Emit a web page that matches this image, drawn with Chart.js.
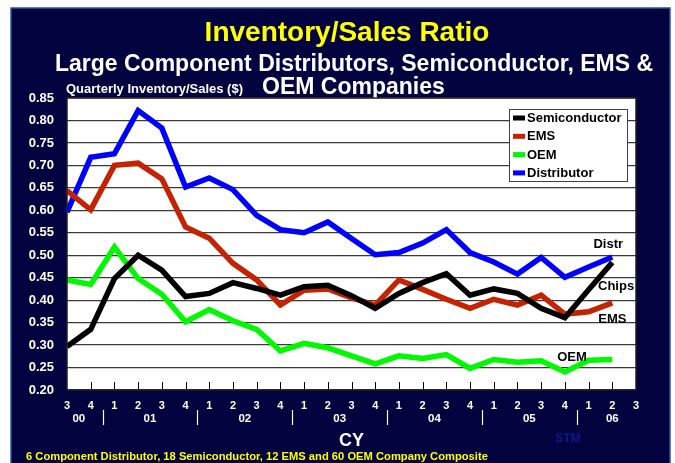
<!DOCTYPE html>
<html lang="en">
<head>
  <meta charset="UTF-8">
  <title>Inventory/Sales Ratio</title>
  <style>
    body {
      margin: 0;
      background-color: #fff;
    }
    #wrap {
      width: 675px;
      height: 463px;
    }
  </style>
  <script src="https://cdn.jsdelivr.net/npm/chart.js"></script>
</head>
<body>
  <div id="wrap"><canvas id="ratioChart" width="675" height="463"></canvas></div>

  <script>
    // quarter labels, Q3 2000 .. Q3 2006
    const quarters = ['3','4','1','2','3','4','1','2','3','4','1','2','3','4','1','2','3','4','1','2','3','4','1','2','3'];
    // year labels with the first and last quarter index they sit under
    const years = ['00','01','02','03','04','05','06'];
    const yearSpans = [[0,1],[2,5],[6,9],[10,13],[14,17],[18,21],[22,24]];

    const semiconductor = [0.297, 0.335, 0.448, 0.500, 0.467, 0.408, 0.415, 0.439, 0.426, 0.411, 0.430, 0.433,
                           0.410, 0.382, 0.415, 0.439, 0.459, 0.411, 0.425, 0.415, 0.382, 0.361, 0.423, 0.484, null];
    const ems = [0.644, 0.601, 0.700, 0.705, 0.670, 0.563, 0.538, 0.482, 0.445, 0.389, 0.422, 0.425,
                 0.405, 0.389, 0.445, 0.424, 0.402, 0.382, 0.402, 0.389, 0.411, 0.369, 0.374, 0.394, null];
    const oem = [0.445, 0.435, 0.518, 0.448, 0.413, 0.352, 0.379, 0.354, 0.335, 0.287, 0.304, 0.294,
                 0.276, 0.258, 0.276, 0.270, 0.279, 0.248, 0.268, 0.262, 0.265, 0.240, 0.266, 0.268, null];
    const distributor = [0.596, 0.718, 0.726, 0.822, 0.783, 0.652, 0.672, 0.646, 0.589, 0.557, 0.550, 0.574,
                         0.537, 0.501, 0.506, 0.527, 0.557, 0.506, 0.485, 0.458, 0.495, 0.451, 0.474, 0.496, null];

    // end-of-line notes: text, quarter index, value
    const endNotes = [
      ['Distr', 22.83, 0.525],
      ['Chips', 23.16, 0.430],
      ['EMS', 23.0, 0.358],
      ['OEM', 21.3, 0.273]
    ];

    const FONT = '"Liberation Sans", Arial, sans-serif';

    function txt(ctx, s, x, y, size, color, align, maxW, base) {
      ctx.font = 'bold ' + size + 'px ' + FONT;
      ctx.fillStyle = color;
      ctx.textAlign = align || 'center';
      ctx.textBaseline = base || 'alphabetic';
      if (maxW) ctx.fillText(s, x, y, maxW);
      else ctx.fillText(s, x, y);
    }

    const backdrop = {
      id: 'backdrop',
      beforeDraw(chart) {
        const ctx = chart.ctx;
        const a = chart.chartArea;
        ctx.save();
        ctx.fillStyle = '#ffffff';
        ctx.fillRect(0, 0, chart.width, chart.height);
        ctx.fillStyle = '#02023e';
        ctx.fillRect(11, 8, 659, 460);
        ctx.strokeStyle = '#2458a8';
        ctx.lineWidth = 1.5;
        ctx.strokeRect(11, 8, 659, 460);
        ctx.fillStyle = '#ffffff';
        ctx.fillRect(a.left, a.top, a.right - a.left, a.bottom - a.top);
        ctx.restore();
      },
      afterDraw(chart) {
        const ctx = chart.ctx;
        const a = chart.chartArea;
        const xs = chart.scales.x;
        const ys = chart.scales.y;
        ctx.save();

        // titles
        txt(ctx, 'Inventory/Sales Ratio', 347, 41, 28, '#ffff00');
        txt(ctx, 'Large Component Distributors, Semiconductor, EMS &', 354, 71, 23, '#ffffff');
        txt(ctx, 'Quarterly Inventory/Sales ($)', 66, 93, 13, '#ffffff', 'left', 192);
        txt(ctx, 'OEM Companies', 262, 94, 23, '#ffffff', 'left');

        // plot border
        ctx.strokeStyle = '#202020';
        ctx.lineWidth = 1.5;
        ctx.strokeRect(a.left, a.top, a.right - a.left, a.bottom - a.top);

        // inner tick marks on the x axis
        ctx.strokeStyle = '#000000';
        ctx.lineWidth = 1;
        for (let i = 1; i < quarters.length - 1; i++) {
          const px = Math.round(xs.getPixelForValue(i)) + 0.5;
          ctx.beginPath();
          ctx.moveTo(px, a.bottom);
          ctx.lineTo(px, a.bottom - 8);
          ctx.stroke();
        }

        // year labels and separators
        yearSpans.forEach((sp, k) => {
          const x0 = xs.getPixelForValue(sp[0]);
          const x1 = xs.getPixelForValue(sp[1]);
          let cx = (x0 + x1) / 2;
          txt(ctx, years[k], cx, a.bottom + 32, 11.5, '#ffffff');
          if (k > 0) {
            const sx = Math.round((xs.getPixelForValue(sp[0] - 1) + x0) / 2) + 0.5;
            ctx.strokeStyle = '#ffffff';
            ctx.lineWidth = 1.2;
            ctx.beginPath();
            ctx.moveTo(sx, a.bottom + 20);
            ctx.lineTo(sx, a.bottom + 35);
            ctx.stroke();
          }
        });

        txt(ctx, 'CY', (a.left + a.right) / 2, 446, 18, '#ffffff');
        txt(ctx, 'STM', 568, 442, 12, '#0c1a8c');
        txt(ctx, '6 Component Distributor, 18 Semiconductor, 12 EMS and 60 OEM Company Composite', 26, 460, 11.2, '#ffff00', 'left');

        // end-of-line notes
        endNotes.forEach(n => {
          txt(ctx, n[0], xs.getPixelForValue(n[1]), ys.getPixelForValue(n[2]), 13, '#000000', 'center', 0, 'middle');
        });

        // legend box
        const lx = 509, ly = 109, lw = 118, lh = 72;
        ctx.fillStyle = '#ffffff';
        ctx.fillRect(lx, ly, lw, lh);
        ctx.strokeStyle = '#404040';
        ctx.lineWidth = 1;
        ctx.strokeRect(lx + 0.5, ly + 0.5, lw, lh);
        chart.data.datasets.forEach((ds, i) => {
          const ry = ly + 9 + i * 18.3;
          ctx.fillStyle = ds.borderColor;
          ctx.fillRect(lx + 4, ry - 2.5, 12, 5);
          ctx.font = 'bold 13px ' + FONT;
          ctx.fillStyle = '#000000';
          ctx.textAlign = 'left';
          ctx.textBaseline = 'middle';
          ctx.fillText(ds.label, lx + 18, ry + 0.5);
        });

        ctx.restore();
      }
    };

    const ctx = document.getElementById('ratioChart').getContext('2d');

    const ratioChart = new Chart(ctx, {
      type: 'line',
      data: {
        labels: quarters,
        datasets: [
          { label: 'Semiconductor', data: semiconductor, borderColor: '#000000' },
          { label: 'EMS', data: ems, borderColor: '#c42200' },
          { label: 'OEM', data: oem, borderColor: '#00f800' },
          { label: 'Distributor', data: distributor, borderColor: '#0000ff' }
        ]
      },
      options: {
        responsive: false,
        animation: false,
        devicePixelRatio: 1,
        layout: { padding: { left: 11, top: 98, right: 39, bottom: 53 } },
        elements: {
          line: { borderWidth: 5.5, tension: 0, fill: false },
          point: { radius: 0, hoverRadius: 0 }
        },
        plugins: {
          legend: { display: false },
          tooltip: { enabled: false }
        },
        scales: {
          x: {
            offset: false,
            afterFit(scale) { scale.height = 20; },
            grid: { display: false, drawTicks: false },
            border: { display: false },
            ticks: {
              autoSkip: false,
              maxRotation: 0,
              padding: 9,
              color: '#ffffff',
              font: { family: FONT, size: 11, weight: 'bold' }
            }
          },
          y: {
            min: 0.2,
            max: 0.85,
            afterFit(scale) { scale.width = 56; },
            grid: { color: '#3a3a3a', lineWidth: 1.2, drawTicks: false },
            border: { display: false },
            ticks: {
              stepSize: 0.05,
              padding: 13,
              color: '#ffffff',
              font: { family: FONT, size: 13, weight: 'bold' },
              callback: v => v.toFixed(2)
            }
          }
        }
      },
      plugins: [backdrop]
    });
  </script>
</body>
</html>
